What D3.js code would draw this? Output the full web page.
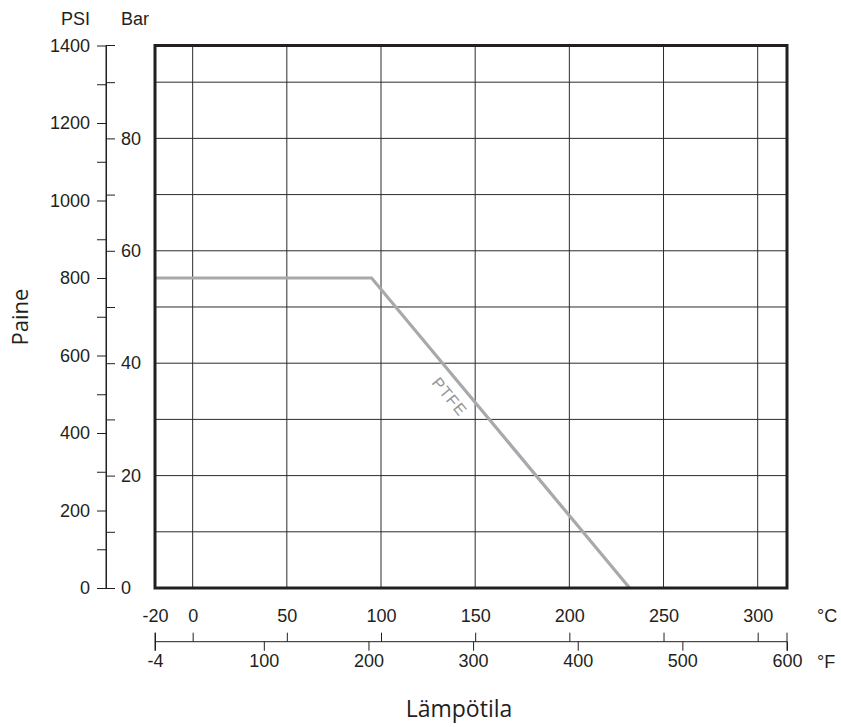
<!DOCTYPE html>
<html>
<head>
  <meta charset="utf-8">
  <title>PTFE paine-lämpötila</title>
  <script src="https://d3js.org/d3.v7.min.js"></script>
  <style>
    body { margin: 0; background: #fff; }
    svg text { fill: #231f20; }
    .tick text { font-family: "Liberation Sans", Arial, sans-serif; font-size: 18px; }
    .tick line, .domain { stroke: #231f20; stroke-width: 1px; }
    .grid line { stroke: #2b2b2b; stroke-width: 1px; }
  </style>
</head>
<body>
<svg id="chart" width="841" height="727"></svg>
<script>
  // PTFE curve: temperature (°C) vs pressure (PSI)
  var tempC = [-20, 95, 232]
  var pressurePsi = [800, 800, 0]
  var seriesName = "PTFE"

  var celsiusTicks = [-20, 0, 50, 100, 150, 200, 250, 300]
  var fahrenheitTicks = [-4, 100, 200, 300, 400, 500, 600]
  var psiTicks = d3.range(0, 1401, 100)
  var psiLabels = [0, 200, 400, 600, 800, 1000, 1200, 1400]
  var barTicks = d3.range(0, 91, 10)
  var barLabels = [0, 20, 40, 60, 80]
  var gridC = [0, 50, 100, 150, 200, 250, 300]
  var gridBar = d3.range(10, 91, 10)

  var PSI_PER_BAR = 14.5038
  var f2c = f => (f - 32) / 1.8
  var plain = d => String(d)   // keep the ascii hyphen for negatives

  var svg = d3.select("#chart")

  var x = d3.scaleLinear().domain([-20, f2c(600)]).range([155, 787])
  var xF = d3.scaleLinear().domain([-4, 600]).range([155, 787])
  var y = d3.scaleLinear().domain([0, 1400]).range([588, 45.5])
  var yBar = d3.scaleLinear().domain([0, 1400 / PSI_PER_BAR]).range([588, 45.5])

  // grid
  var grid = svg.append("g").attr("class", "grid")
  grid.selectAll(".v").data(gridC).enter().append("line")
    .attr("x1", d => x(d)).attr("x2", d => x(d))
    .attr("y1", y(1400)).attr("y2", y(0))
  grid.selectAll(".h").data(gridBar).enter().append("line")
    .attr("x1", x.range()[0]).attr("x2", x.range()[1])
    .attr("y1", d => yBar(d)).attr("y2", d => yBar(d))

  // PTFE line
  var line = d3.line().x(d => x(d[0])).y(d => y(d[1]))
  var pts = tempC.map((t, i) => [t, pressurePsi[i]])
  svg.append("path")
    .datum(pts)
    .attr("d", line)
    .attr("fill", "none")
    .attr("stroke", "#a7a9ac")
    .attr("stroke-width", 3.2)
    .attr("stroke-linejoin", "miter")

  // line label along the slope
  var ax = x(tempC[1]), ay = y(pressurePsi[1]), bx = x(tempC[2]), by = y(pressurePsi[2])
  var ang = Math.atan2(by - ay, bx - ax)
  var labelPsi = 520
  var t = (pressurePsi[1] - labelPsi) / (pressurePsi[1] - pressurePsi[2])
  var lx = ax + t * (bx - ax) - Math.sin(ang) * 16
  var ly = ay + t * (by - ay) + Math.cos(ang) * 16
  svg.append("text")
    .attr("transform", "translate(" + lx + "," + ly + ") rotate(" + (ang * 180 / Math.PI) + ")")
    .attr("text-anchor", "middle")
    .attr("dy", "0.35em")
    .style("font-family", "Liberation Sans, Arial, sans-serif")
    .style("font-size", "16px")
    .style("letter-spacing", "1px")
    .style("fill", "#939598")
    .text(seriesName)

  // frame
  svg.append("rect")
    .attr("x", x.range()[0]).attr("y", y(1400))
    .attr("width", x.range()[1] - x.range()[0])
    .attr("height", y(0) - y(1400))
    .attr("fill", "none")
    .attr("stroke", "#231f20")
    .attr("stroke-width", 3)

  // left axes
  var axisX = 106
  svg.append("g")
    .attr("transform", "translate(" + axisX + ",0)")
    .call(d3.axisLeft(y).tickValues(psiTicks).tickSize(9).tickSizeOuter(0).tickPadding(7)
      .tickFormat(d => psiLabels.indexOf(d) >= 0 ? plain(d) : ""))
  svg.append("g")
    .attr("transform", "translate(" + axisX + ",0)")
    .call(d3.axisRight(yBar).tickValues(barTicks).tickSize(9).tickSizeOuter(9).tickPadding(6)
      .tickFormat(d => barLabels.indexOf(d) >= 0 ? plain(d) : ""))
    .call(g => g.select(".domain").attr("d", "M9," + y(1400) + "H0V" + y(0)))

  svg.append("text").attr("x", 90).attr("y", 25).attr("text-anchor", "end")
    .style("font-family", "Liberation Sans, Arial, sans-serif").style("font-size", "18px").text("PSI")
  svg.append("text").attr("x", 121).attr("y", 25)
    .style("font-family", "Liberation Sans, Arial, sans-serif").style("font-size", "18px").text("Bar")

  // bottom dual temperature axis
  var axisY = 641.7
  svg.append("g")
    .attr("transform", "translate(0," + axisY + ")")
    .call(d3.axisTop(x).tickValues(celsiusTicks).tickSize(9).tickSizeOuter(0).tickPadding(11)
      .tickFormat(plain))
    .call(g => g.select(".domain").remove())
  svg.append("g")
    .attr("transform", "translate(0," + axisY + ")")
    .call(d3.axisBottom(xF).tickValues(fahrenheitTicks).tickSize(9).tickSizeOuter(0).tickPadding(4)
      .tickFormat(plain))
    .call(g => g.select(".domain").attr("d",
      "M" + xF(-4) + ",-9V9M" + xF(-4) + ",0H" + xF(600) + "M" + xF(600) + ",-9V9"))

  svg.append("text").attr("x", 817).attr("y", 622)
    .style("font-family", "Liberation Sans, Arial, sans-serif").style("font-size", "18px").text("°C")
  svg.append("text").attr("x", 817).attr("y", 668)
    .style("font-family", "Liberation Sans, Arial, sans-serif").style("font-size", "18px").text("°F")

  // axis titles
  svg.append("text")
    .attr("transform", "translate(28,317) rotate(-90)")
    .attr("text-anchor", "middle")
    .style("font-family", "Open Sans, sans-serif").style("font-size", "22px")
    .text("Paine")
  svg.append("text")
    .attr("x", 459).attr("y", 717)
    .attr("text-anchor", "middle")
    .style("font-family", "Open Sans, sans-serif").style("font-size", "23px")
    .text("Lämpötila")
</script>
</body>
</html>
